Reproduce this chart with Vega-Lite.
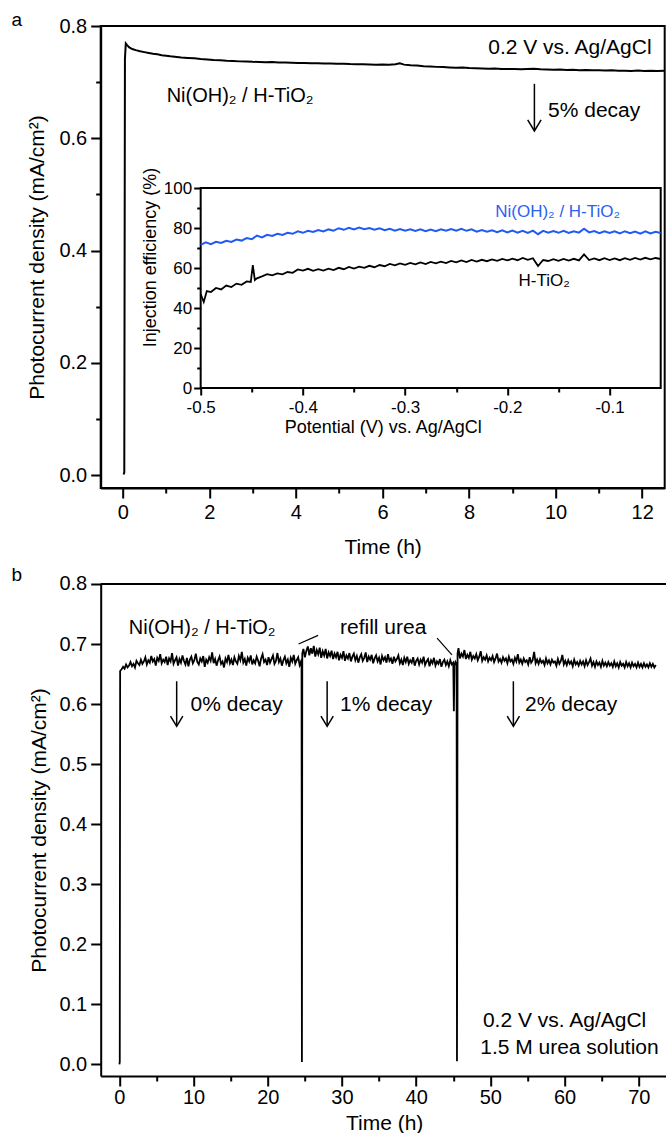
{
"$schema": "https://vega.github.io/schema/vega-lite/v6.json",
"background": "white",
"padding": {"left": 9.7, "top": 10, "right": 0, "bottom": 0},
"bounds": "flush",
"spacing": 96,
"datasets": {
"a_main": [
{"time":0.02,"current":0.001},{"time":0.035,"current":0.005},{"time":0.05,"current":0.742},{"time":0.07,"current":0.769},{"time":0.1,"current":0.766},{"time":0.15,"current":0.762},{"time":0.22,"current":0.759},{"time":0.3,"current":0.757},{"time":0.4,"current":0.755},{"time":0.5,"current":0.7535},{"time":0.6,"current":0.752},{"time":0.7,"current":0.7505},{"time":0.8,"current":0.7495},{"time":0.9,"current":0.748},{"time":1.0,"current":0.747},{"time":1.1,"current":0.746},{"time":1.2,"current":0.7452},{"time":1.35,"current":0.744},{"time":1.5,"current":0.7432},{"time":1.65,"current":0.7425},{"time":1.8,"current":0.7412},{"time":1.95,"current":0.7405},{"time":2.1,"current":0.7395},{"time":2.25,"current":0.739},{"time":2.4,"current":0.7382},{"time":2.55,"current":0.7378},{"time":2.7,"current":0.737},{"time":2.85,"current":0.7368},{"time":3.0,"current":0.7362},{"time":3.15,"current":0.736},{"time":3.3,"current":0.7355},{"time":3.45,"current":0.7358},{"time":3.6,"current":0.735},{"time":3.75,"current":0.7348},{"time":3.9,"current":0.7345},{"time":4.05,"current":0.7342},{"time":4.2,"current":0.734},{"time":4.35,"current":0.7336},{"time":4.5,"current":0.7338},{"time":4.65,"current":0.7332},{"time":4.8,"current":0.733},{"time":4.95,"current":0.7326},{"time":5.1,"current":0.7328},{"time":5.25,"current":0.7322},{"time":5.4,"current":0.732},{"time":5.55,"current":0.7318},{"time":5.7,"current":0.7315},{"time":5.85,"current":0.7312},{"time":6.0,"current":0.7314},{"time":6.15,"current":0.731},{"time":6.3,"current":0.7318},{"time":6.4,"current":0.7335},{"time":6.5,"current":0.7312},{"time":6.65,"current":0.7302},{"time":6.8,"current":0.7295},{"time":6.95,"current":0.7285},{"time":7.1,"current":0.7278},{"time":7.25,"current":0.7272},{"time":7.4,"current":0.7268},{"time":7.55,"current":0.7262},{"time":7.7,"current":0.7258},{"time":7.85,"current":0.7262},{"time":8.0,"current":0.7252},{"time":8.15,"current":0.7248},{"time":8.3,"current":0.7245},{"time":8.45,"current":0.724},{"time":8.6,"current":0.7242},{"time":8.75,"current":0.7236},{"time":8.9,"current":0.7232},{"time":9.05,"current":0.7235},{"time":9.2,"current":0.7228},{"time":9.35,"current":0.7232},{"time":9.5,"current":0.7238},{"time":9.65,"current":0.7228},{"time":9.8,"current":0.7225},{"time":9.95,"current":0.7222},{"time":10.1,"current":0.7226},{"time":10.25,"current":0.7218},{"time":10.4,"current":0.722},{"time":10.55,"current":0.7214},{"time":10.7,"current":0.7216},{"time":10.85,"current":0.721},{"time":11.0,"current":0.7212},{"time":11.15,"current":0.7206},{"time":11.3,"current":0.721},{"time":11.45,"current":0.7202},{"time":11.6,"current":0.7205},{"time":11.75,"current":0.72},{"time":11.9,"current":0.7206},{"time":12.05,"current":0.72},{"time":12.2,"current":0.7204},{"time":12.35,"current":0.7198},{"time":12.52,"current":0.7202}
],
"inset_ni": [
{"potential":-0.5,"efficiency":71.6},{"potential":-0.495,"efficiency":72.8},{"potential":-0.49,"efficiency":71.9},{"potential":-0.485,"efficiency":73.1},{"potential":-0.48,"efficiency":72.5},{"potential":-0.475,"efficiency":73.6},{"potential":-0.47,"efficiency":73.0},{"potential":-0.465,"efficiency":74.2},{"potential":-0.46,"efficiency":73.7},{"potential":-0.455,"efficiency":75.0},{"potential":-0.45,"efficiency":74.4},{"potential":-0.445,"efficiency":76.2},{"potential":-0.44,"efficiency":75.3},{"potential":-0.435,"efficiency":76.6},{"potential":-0.43,"efficiency":76.0},{"potential":-0.425,"efficiency":77.1},{"potential":-0.42,"efficiency":76.5},{"potential":-0.415,"efficiency":77.6},{"potential":-0.41,"efficiency":77.1},{"potential":-0.405,"efficiency":78.3},{"potential":-0.4,"efficiency":77.6},{"potential":-0.395,"efficiency":78.6},{"potential":-0.39,"efficiency":78.0},{"potential":-0.385,"efficiency":79.0},{"potential":-0.38,"efficiency":78.3},{"potential":-0.375,"efficiency":79.3},{"potential":-0.37,"efficiency":78.7},{"potential":-0.365,"efficiency":79.9},{"potential":-0.36,"efficiency":79.1},{"potential":-0.355,"efficiency":80.1},{"potential":-0.35,"efficiency":79.3},{"potential":-0.345,"efficiency":80.2},{"potential":-0.34,"efficiency":79.4},{"potential":-0.335,"efficiency":80.0},{"potential":-0.33,"efficiency":79.1},{"potential":-0.325,"efficiency":79.8},{"potential":-0.32,"efficiency":78.9},{"potential":-0.315,"efficiency":79.6},{"potential":-0.31,"efficiency":78.7},{"potential":-0.305,"efficiency":79.5},{"potential":-0.3,"efficiency":78.6},{"potential":-0.295,"efficiency":79.4},{"potential":-0.29,"efficiency":78.5},{"potential":-0.285,"efficiency":79.3},{"potential":-0.28,"efficiency":78.4},{"potential":-0.275,"efficiency":79.2},{"potential":-0.27,"efficiency":78.4},{"potential":-0.265,"efficiency":79.3},{"potential":-0.26,"efficiency":78.6},{"potential":-0.255,"efficiency":79.5},{"potential":-0.25,"efficiency":78.7},{"potential":-0.245,"efficiency":79.6},{"potential":-0.24,"efficiency":78.6},{"potential":-0.235,"efficiency":79.3},{"potential":-0.23,"efficiency":78.2},{"potential":-0.225,"efficiency":79.0},{"potential":-0.22,"efficiency":78.1},{"potential":-0.215,"efficiency":78.9},{"potential":-0.21,"efficiency":77.9},{"potential":-0.205,"efficiency":78.8},{"potential":-0.2,"efficiency":77.8},{"potential":-0.195,"efficiency":78.7},{"potential":-0.19,"efficiency":77.7},{"potential":-0.185,"efficiency":78.6},{"potential":-0.18,"efficiency":77.6},{"potential":-0.175,"efficiency":78.7},{"potential":-0.17,"efficiency":76.9},{"potential":-0.165,"efficiency":78.6},{"potential":-0.16,"efficiency":77.7},{"potential":-0.155,"efficiency":78.5},{"potential":-0.15,"efficiency":77.6},{"potential":-0.145,"efficiency":78.6},{"potential":-0.14,"efficiency":77.5},{"potential":-0.135,"efficiency":78.4},{"potential":-0.13,"efficiency":77.7},{"potential":-0.125,"efficiency":79.6},{"potential":-0.12,"efficiency":77.8},{"potential":-0.115,"efficiency":78.5},{"potential":-0.11,"efficiency":77.4},{"potential":-0.105,"efficiency":78.4},{"potential":-0.1,"efficiency":77.5},{"potential":-0.095,"efficiency":78.3},{"potential":-0.09,"efficiency":77.3},{"potential":-0.085,"efficiency":78.4},{"potential":-0.08,"efficiency":77.4},{"potential":-0.075,"efficiency":78.2},{"potential":-0.07,"efficiency":77.2},{"potential":-0.065,"efficiency":78.3},{"potential":-0.06,"efficiency":77.3},{"potential":-0.055,"efficiency":78.1},{"potential":-0.05,"efficiency":77.5}
],
"inset_h": [
{"potential":-0.5,"efficiency":47.0},{"potential":-0.497,"efficiency":43.0},{"potential":-0.494,"efficiency":48.5},{"potential":-0.49,"efficiency":48.0},{"potential":-0.485,"efficiency":50.0},{"potential":-0.48,"efficiency":49.3},{"potential":-0.475,"efficiency":51.2},{"potential":-0.47,"efficiency":50.5},{"potential":-0.465,"efficiency":52.2},{"potential":-0.46,"efficiency":51.6},{"potential":-0.455,"efficiency":53.3},{"potential":-0.451,"efficiency":53.0},{"potential":-0.449,"efficiency":61.5},{"potential":-0.447,"efficiency":54.0},{"potential":-0.445,"efficiency":54.8},{"potential":-0.44,"efficiency":55.8},{"potential":-0.435,"efficiency":56.9},{"potential":-0.43,"efficiency":56.3},{"potential":-0.425,"efficiency":57.3},{"potential":-0.42,"efficiency":56.8},{"potential":-0.415,"efficiency":58.0},{"potential":-0.41,"efficiency":57.6},{"potential":-0.405,"efficiency":59.3},{"potential":-0.4,"efficiency":58.7},{"potential":-0.395,"efficiency":59.6},{"potential":-0.39,"efficiency":58.6},{"potential":-0.385,"efficiency":59.4},{"potential":-0.38,"efficiency":58.7},{"potential":-0.375,"efficiency":59.7},{"potential":-0.37,"efficiency":59.0},{"potential":-0.365,"efficiency":60.1},{"potential":-0.36,"efficiency":59.4},{"potential":-0.355,"efficiency":60.5},{"potential":-0.35,"efficiency":59.7},{"potential":-0.345,"efficiency":60.7},{"potential":-0.34,"efficiency":60.1},{"potential":-0.335,"efficiency":61.1},{"potential":-0.33,"efficiency":60.4},{"potential":-0.325,"efficiency":61.5},{"potential":-0.32,"efficiency":60.9},{"potential":-0.315,"efficiency":62.0},{"potential":-0.31,"efficiency":61.3},{"potential":-0.305,"efficiency":62.3},{"potential":-0.3,"efficiency":61.6},{"potential":-0.295,"efficiency":62.5},{"potential":-0.29,"efficiency":61.8},{"potential":-0.285,"efficiency":62.8},{"potential":-0.28,"efficiency":62.0},{"potential":-0.275,"efficiency":63.0},{"potential":-0.27,"efficiency":62.3},{"potential":-0.265,"efficiency":63.2},{"potential":-0.26,"efficiency":62.5},{"potential":-0.255,"efficiency":63.5},{"potential":-0.25,"efficiency":62.8},{"potential":-0.245,"efficiency":63.8},{"potential":-0.24,"efficiency":63.0},{"potential":-0.235,"efficiency":64.0},{"potential":-0.23,"efficiency":63.2},{"potential":-0.225,"efficiency":64.1},{"potential":-0.22,"efficiency":63.4},{"potential":-0.215,"efficiency":64.3},{"potential":-0.21,"efficiency":63.6},{"potential":-0.205,"efficiency":64.5},{"potential":-0.2,"efficiency":63.8},{"potential":-0.195,"efficiency":64.7},{"potential":-0.19,"efficiency":63.9},{"potential":-0.185,"efficiency":65.0},{"potential":-0.18,"efficiency":64.1},{"potential":-0.175,"efficiency":64.9},{"potential":-0.17,"efficiency":61.0},{"potential":-0.165,"efficiency":64.0},{"potential":-0.16,"efficiency":63.5},{"potential":-0.155,"efficiency":64.4},{"potential":-0.15,"efficiency":63.6},{"potential":-0.145,"efficiency":64.5},{"potential":-0.14,"efficiency":63.7},{"potential":-0.135,"efficiency":64.6},{"potential":-0.13,"efficiency":63.8},{"potential":-0.125,"efficiency":66.8},{"potential":-0.12,"efficiency":64.0},{"potential":-0.115,"efficiency":64.8},{"potential":-0.11,"efficiency":63.9},{"potential":-0.105,"efficiency":64.9},{"potential":-0.1,"efficiency":64.0},{"potential":-0.095,"efficiency":64.8},{"potential":-0.09,"efficiency":63.9},{"potential":-0.085,"efficiency":64.9},{"potential":-0.08,"efficiency":64.1},{"potential":-0.075,"efficiency":65.0},{"potential":-0.07,"efficiency":64.2},{"potential":-0.065,"efficiency":65.1},{"potential":-0.06,"efficiency":64.3},{"potential":-0.055,"efficiency":65.0},{"potential":-0.05,"efficiency":64.5}
],
"b_main": [
{"time":0,"current":0.0},{"time":0.05,"current":0.004},{"time":0.1,"current":0.655},
{"time":0.3,"current":0.658},{"time":0.5,"current":0.662},{"time":0.7,"current":0.659},{"time":0.9,"current":0.666},{"time":1.1,"current":0.661},{"time":1.3,"current":0.664},{"time":1.5,"current":0.67},{"time":1.7,"current":0.663},{"time":1.9,"current":0.667},{"time":2.1,"current":0.661},{"time":2.3,"current":0.672},{"time":2.5,"current":0.668},{"time":2.7,"current":0.665},{"time":2.9,"current":0.674},{"time":3.1,"current":0.667},{"time":3.3,"current":0.671},{"time":3.5,"current":0.678},{"time":3.7,"current":0.666},{"time":3.9,"current":0.673},{"time":4.1,"current":0.669},{"time":4.3,"current":0.68},{"time":4.5,"current":0.671},{"time":4.7,"current":0.675},{"time":4.9,"current":0.664},{"time":5.1,"current":0.677},{"time":5.3,"current":0.672},{"time":5.5,"current":0.683},{"time":5.7,"current":0.668},{"time":5.9,"current":0.674},{"time":6.1,"current":0.67},{"time":6.3,"current":0.679},{"time":6.5,"current":0.665},{"time":6.7,"current":0.676},{"time":6.9,"current":0.671},{"time":7.1,"current":0.685},{"time":7.3,"current":0.667},{"time":7.5,"current":0.673},{"time":7.7,"current":0.678},{"time":7.9,"current":0.664},{"time":8.1,"current":0.675},{"time":8.3,"current":0.669},{"time":8.5,"current":0.681},{"time":8.7,"current":0.672},{"time":8.9,"current":0.666},{"time":9.1,"current":0.677},{"time":9.3,"current":0.663},{"time":9.5,"current":0.674},{"time":9.7,"current":0.679},{"time":9.9,"current":0.668},{"time":10.1,"current":0.673},{"time":10.3,"current":0.684},{"time":10.5,"current":0.67},{"time":10.7,"current":0.666},{"time":10.9,"current":0.676},{"time":11.1,"current":0.671},{"time":11.3,"current":0.68},{"time":11.5,"current":0.662},{"time":11.7,"current":0.674},{"time":11.9,"current":0.669},{"time":12.1,"current":0.678},{"time":12.3,"current":0.672},{"time":12.5,"current":0.686},{"time":12.7,"current":0.668},{"time":12.9,"current":0.675},{"time":13.1,"current":0.664},{"time":13.3,"current":0.673},{"time":13.5,"current":0.679},{"time":13.7,"current":0.667},{"time":13.9,"current":0.671},{"time":14.1,"current":0.661},{"time":14.3,"current":0.676},{"time":14.5,"current":0.67},{"time":14.7,"current":0.682},{"time":14.9,"current":0.668},{"time":15.1,"current":0.674},{"time":15.3,"current":0.665},{"time":15.5,"current":0.678},{"time":15.7,"current":0.671},{"time":15.9,"current":0.667},{"time":16.1,"current":0.68},{"time":16.3,"current":0.673},{"time":16.5,"current":0.687},{"time":16.7,"current":0.669},{"time":16.9,"current":0.675},{"time":17.1,"current":0.664},{"time":17.3,"current":0.677},{"time":17.5,"current":0.671},{"time":17.7,"current":0.681},{"time":17.9,"current":0.666},{"time":18.1,"current":0.673},{"time":18.3,"current":0.668},{"time":18.5,"current":0.679},{"time":18.7,"current":0.672},{"time":18.9,"current":0.663},{"time":19.1,"current":0.676},{"time":19.3,"current":0.683},{"time":19.5,"current":0.67},{"time":19.7,"current":0.674},{"time":19.9,"current":0.665},{"time":20.1,"current":0.678},{"time":20.3,"current":0.669},{"time":20.5,"current":0.675},{"time":20.7,"current":0.681},{"time":20.9,"current":0.667},{"time":21.1,"current":0.672},{"time":21.3,"current":0.685},{"time":21.5,"current":0.67},{"time":21.7,"current":0.676},{"time":21.9,"current":0.664},{"time":22.1,"current":0.673},{"time":22.3,"current":0.679},{"time":22.5,"current":0.668},{"time":22.7,"current":0.674},{"time":22.9,"current":0.662},{"time":23.1,"current":0.677},{"time":23.3,"current":0.671},{"time":23.5,"current":0.682},{"time":23.7,"current":0.667},{"time":23.9,"current":0.673},{"time":24.1,"current":0.678},{"time":24.3,"current":0.665},{"time":24.45,"current":0.67},{"time":24.55,"current":0.662},{"time":24.6,"current":0.004},{"time":24.65,"current":0.684},
{"time":24.8,"current":0.692},{"time":25.0,"current":0.678},{"time":25.2,"current":0.689},{"time":25.4,"current":0.696},{"time":25.6,"current":0.681},{"time":25.8,"current":0.693},{"time":26.0,"current":0.684},{"time":26.2,"current":0.697},{"time":26.4,"current":0.679},{"time":26.6,"current":0.69},{"time":26.8,"current":0.683},{"time":27.0,"current":0.694},{"time":27.2,"current":0.677},{"time":27.4,"current":0.688},{"time":27.6,"current":0.681},{"time":27.8,"current":0.692},{"time":28.0,"current":0.676},{"time":28.2,"current":0.686},{"time":28.4,"current":0.68},{"time":28.6,"current":0.689},{"time":28.8,"current":0.675},{"time":29.0,"current":0.684},{"time":29.2,"current":0.678},{"time":29.4,"current":0.687},{"time":29.6,"current":0.673},{"time":29.8,"current":0.682},{"time":30.0,"current":0.677},{"time":30.2,"current":0.688},{"time":30.4,"current":0.672},{"time":30.6,"current":0.681},{"time":30.8,"current":0.676},{"time":31.0,"current":0.685},{"time":31.2,"current":0.671},{"time":31.4,"current":0.679},{"time":31.6,"current":0.684},{"time":31.8,"current":0.673},{"time":32.0,"current":0.68},{"time":32.2,"current":0.669},{"time":32.4,"current":0.678},{"time":32.6,"current":0.683},{"time":32.8,"current":0.672},{"time":33.0,"current":0.677},{"time":33.2,"current":0.686},{"time":33.4,"current":0.67},{"time":33.6,"current":0.679},{"time":33.8,"current":0.674},{"time":34.0,"current":0.682},{"time":34.2,"current":0.668},{"time":34.4,"current":0.676},{"time":34.6,"current":0.681},{"time":34.8,"current":0.671},{"time":35.0,"current":0.677},{"time":35.2,"current":0.666},{"time":35.4,"current":0.68},{"time":35.6,"current":0.673},{"time":35.8,"current":0.678},{"time":36.0,"current":0.669},{"time":36.2,"current":0.683},{"time":36.4,"current":0.672},{"time":36.6,"current":0.676},{"time":36.8,"current":0.667},{"time":37.0,"current":0.679},{"time":37.2,"current":0.671},{"time":37.4,"current":0.675},{"time":37.6,"current":0.681},{"time":37.8,"current":0.668},{"time":38.0,"current":0.674},{"time":38.2,"current":0.665},{"time":38.4,"current":0.677},{"time":38.6,"current":0.67},{"time":38.8,"current":0.679},{"time":39.0,"current":0.667},{"time":39.2,"current":0.673},{"time":39.4,"current":0.669},{"time":39.6,"current":0.678},{"time":39.8,"current":0.664},{"time":40.0,"current":0.672},{"time":40.2,"current":0.676},{"time":40.4,"current":0.666},{"time":40.6,"current":0.674},{"time":40.8,"current":0.669},{"time":41.0,"current":0.679},{"time":41.2,"current":0.665},{"time":41.4,"current":0.671},{"time":41.6,"current":0.675},{"time":41.8,"current":0.663},{"time":42.0,"current":0.673},{"time":42.2,"current":0.668},{"time":42.4,"current":0.677},{"time":42.6,"current":0.664},{"time":42.8,"current":0.671},{"time":43.0,"current":0.667},{"time":43.2,"current":0.675},{"time":43.4,"current":0.662},{"time":43.6,"current":0.67},{"time":43.8,"current":0.674},{"time":44.0,"current":0.665},{"time":44.2,"current":0.671},{"time":44.4,"current":0.663},{"time":44.6,"current":0.673},{"time":44.8,"current":0.666},{"time":45.0,"current":0.669},{"time":45.08,"current":0.588},{"time":45.16,"current":0.664},{"time":45.3,"current":0.67},{"time":45.45,"current":0.666},{"time":45.5,"current":0.005},{"time":45.58,"current":0.684},
{"time":45.7,"current":0.693},{"time":45.9,"current":0.676},{"time":46.1,"current":0.684},{"time":46.3,"current":0.679},{"time":46.5,"current":0.69},{"time":46.7,"current":0.675},{"time":46.9,"current":0.682},{"time":47.1,"current":0.677},{"time":47.3,"current":0.687},{"time":47.5,"current":0.674},{"time":47.7,"current":0.68},{"time":47.9,"current":0.676},{"time":48.1,"current":0.683},{"time":48.3,"current":0.673},{"time":48.5,"current":0.679},{"time":48.7,"current":0.688},{"time":48.9,"current":0.672},{"time":49.1,"current":0.678},{"time":49.3,"current":0.674},{"time":49.5,"current":0.681},{"time":49.7,"current":0.671},{"time":49.9,"current":0.677},{"time":50.1,"current":0.673},{"time":50.3,"current":0.68},{"time":50.5,"current":0.67},{"time":50.7,"current":0.676},{"time":50.9,"current":0.684},{"time":51.1,"current":0.671},{"time":51.3,"current":0.675},{"time":51.5,"current":0.669},{"time":51.7,"current":0.678},{"time":51.9,"current":0.672},{"time":52.1,"current":0.676},{"time":52.3,"current":0.668},{"time":52.5,"current":0.679},{"time":52.7,"current":0.671},{"time":52.9,"current":0.674},{"time":53.1,"current":0.667},{"time":53.3,"current":0.677},{"time":53.5,"current":0.671},{"time":53.7,"current":0.683},{"time":53.9,"current":0.669},{"time":54.1,"current":0.674},{"time":54.3,"current":0.667},{"time":54.5,"current":0.676},{"time":54.7,"current":0.67},{"time":54.9,"current":0.673},{"time":55.1,"current":0.666},{"time":55.3,"current":0.678},{"time":55.5,"current":0.669},{"time":55.7,"current":0.673},{"time":55.9,"current":0.687},{"time":56.1,"current":0.668},{"time":56.3,"current":0.674},{"time":56.5,"current":0.667},{"time":56.7,"current":0.675},{"time":56.9,"current":0.669},{"time":57.1,"current":0.672},{"time":57.3,"current":0.665},{"time":57.5,"current":0.676},{"time":57.7,"current":0.668},{"time":57.9,"current":0.673},{"time":58.1,"current":0.666},{"time":58.3,"current":0.674},{"time":58.5,"current":0.669},{"time":58.7,"current":0.671},{"time":58.9,"current":0.664},{"time":59.1,"current":0.675},{"time":59.3,"current":0.667},{"time":59.5,"current":0.672},{"time":59.7,"current":0.682},{"time":59.9,"current":0.666},{"time":60.1,"current":0.672},{"time":60.3,"current":0.665},{"time":60.5,"current":0.673},{"time":60.7,"current":0.667},{"time":60.9,"current":0.671},{"time":61.1,"current":0.663},{"time":61.3,"current":0.674},{"time":61.5,"current":0.666},{"time":61.7,"current":0.67},{"time":61.9,"current":0.664},{"time":62.1,"current":0.672},{"time":62.3,"current":0.666},{"time":62.5,"current":0.671},{"time":62.7,"current":0.663},{"time":62.9,"current":0.673},{"time":63.1,"current":0.665},{"time":63.3,"current":0.67},{"time":63.5,"current":0.676},{"time":63.7,"current":0.664},{"time":63.9,"current":0.67},{"time":64.1,"current":0.662},{"time":64.3,"current":0.671},{"time":64.5,"current":0.665},{"time":64.7,"current":0.669},{"time":64.9,"current":0.662},{"time":65.1,"current":0.672},{"time":65.3,"current":0.664},{"time":65.5,"current":0.669},{"time":65.7,"current":0.663},{"time":65.9,"current":0.67},{"time":66.1,"current":0.664},{"time":66.3,"current":0.668},{"time":66.5,"current":0.662},{"time":66.7,"current":0.671},{"time":66.9,"current":0.663},{"time":67.1,"current":0.668},{"time":67.3,"current":0.661},{"time":67.5,"current":0.67},{"time":67.7,"current":0.664},{"time":67.9,"current":0.667},{"time":68.1,"current":0.661},{"time":68.3,"current":0.67},{"time":68.5,"current":0.663},{"time":68.7,"current":0.668},{"time":68.9,"current":0.661},{"time":69.1,"current":0.669},{"time":69.3,"current":0.663},{"time":69.5,"current":0.667},{"time":69.7,"current":0.661},{"time":69.9,"current":0.669},{"time":70.1,"current":0.662},{"time":70.3,"current":0.667},{"time":70.5,"current":0.661},{"time":70.7,"current":0.668},{"time":70.9,"current":0.662},{"time":71.1,"current":0.666},{"time":71.3,"current":0.661},{"time":71.5,"current":0.668},{"time":71.7,"current":0.662},{"time":71.9,"current":0.667},{"time":72.1,"current":0.661},{"time":72.3,"current":0.665}
]
},
"vconcat": [
{
"width": 564,
"height": 462,
"resolve": {"scale": {"x": "independent", "y": "independent"}},
"layer": [
{
"layer": [
{"data": {"name": "a_main"}, "mark": {"type": "line", "color": "black", "strokeWidth": 2},
 "encoding": {
  "x": {"field": "time", "type": "quantitative", "scale": {"domain": [-0.51, 12.52], "nice": false, "zero": false},
   "axis": {"title": "Time (h)", "values": [0,1,2,3,4,5,6,7,8,9,10,11,12], "labelExpr": "datum.value % 2 === 0 ? format(datum.value, 'd') : ''", "tickSize": {"condition": {"test": "datum.value % 2 === 0", "value": 10}, "value": 5}, "labelFontSize": 20, "titleFontSize": 21, "labelPadding": 4, "titlePadding": 14}},
  "y": {"field": "current", "type": "quantitative", "scale": {"domain": [-0.023, 0.8], "nice": false, "zero": false},
   "axis": {"title": "Photocurrent density (mA/cm²)", "values": [0,0.1,0.2,0.3,0.4,0.5,0.6,0.7,0.8], "labelExpr": "round(datum.value*10) % 2 === 0 ? format(datum.value, '.1f') : ''", "tickSize": {"condition": {"test": "round(datum.value*10) % 2 === 0", "value": 10}, "value": 5}, "labelFontSize": 20, "titleFontSize": 21, "labelPadding": 4, "titlePadding": 11}}
 }},
{"data": {"values": [{}]}, "mark": {"type": "text", "text": "a", "fontSize": 19, "align": "center", "baseline": "alphabetic"},
 "encoding": {"x": {"datum": -2.45, "type": "quantitative", "scale": {"domain": [-0.51, 12.52], "nice": false, "zero": false}}, "y": {"datum": 0.8, "type": "quantitative", "scale": {"domain": [-0.023, 0.8], "nice": false, "zero": false}}}},
{"data": {"values": [{}]}, "mark": {"type": "text", "text": "0.2 V vs. Ag/AgCl", "fontSize": 21, "align": "center", "baseline": "middle"},
 "encoding": {"x": {"datum": 10.33, "type": "quantitative", "scale": {"domain": [-0.51, 12.52], "nice": false, "zero": false}}, "y": {"datum": 0.761, "type": "quantitative", "scale": {"domain": [-0.023, 0.8], "nice": false, "zero": false}}}},
{"data": {"values": [{}]}, "mark": {"type": "text", "text": "Ni(OH)₂ / H-TiO₂", "fontSize": 20, "align": "center", "baseline": "middle"},
 "encoding": {"x": {"datum": 2.71, "type": "quantitative", "scale": {"domain": [-0.51, 12.52], "nice": false, "zero": false}}, "y": {"datum": 0.676, "type": "quantitative", "scale": {"domain": [-0.023, 0.8], "nice": false, "zero": false}}}},
{"data": {"values": [{}]}, "mark": {"type": "text", "text": "5% decay", "fontSize": 21, "align": "center", "baseline": "middle"},
 "encoding": {"x": {"datum": 10.89, "type": "quantitative", "scale": {"domain": [-0.51, 12.52], "nice": false, "zero": false}}, "y": {"datum": 0.649, "type": "quantitative", "scale": {"domain": [-0.023, 0.8], "nice": false, "zero": false}}}},
{"data": {"values": [{}]}, "mark": {"type": "rule", "color": "black", "strokeWidth": 1.5},
 "encoding": {"x": {"datum": 9.51, "type": "quantitative", "scale": {"domain": [-0.51, 12.52], "nice": false, "zero": false}}, "y": {"datum": 0.697, "type": "quantitative", "scale": {"domain": [-0.023, 0.8], "nice": false, "zero": false}}, "y2": {"datum": 0.614}}},
{"data": {"values": [{}]}, "mark": {"type": "point", "shape": "M-0.6,-1L0,0L0.6,-1", "size": 500, "filled": false, "color": "black", "strokeWidth": 1.5, "opacity": 1},
 "encoding": {"x": {"datum": 9.51, "type": "quantitative", "scale": {"domain": [-0.51, 12.52], "nice": false, "zero": false}}, "y": {"datum": 0.613, "type": "quantitative", "scale": {"domain": [-0.023, 0.8], "nice": false, "zero": false}}}}
]
},
{
"layer": [
{"data": {"values": [{}]}, "mark": {"type": "rect", "fill": "white", "stroke": "black", "strokeWidth": 2},
 "encoding": {
  "x": {"datum": -0.5, "type": "quantitative", "scale": {"domain": [-0.5978, -0.0461], "nice": false, "zero": false},
   "axis": {"title": "Potential (V) vs. Ag/AgCl", "orient": "bottom", "offset": -100, "zindex": 2, "domain": false, "values": [-0.5,-0.45,-0.4,-0.35,-0.3,-0.25,-0.2,-0.15,-0.1], "labelExpr": "round(datum.value*100) % 10 === 0 ? '-' + format(abs(datum.value), '.1f') : ''", "tickSize": {"condition": {"test": "round(datum.value*100) % 10 === 0", "value": 7}, "value": 4}, "labelFontSize": 17, "titleFontSize": 18, "labelPadding": 4, "titlePadding": 3}},
  "x2": {"datum": -0.05},
  "y": {"datum": 0, "type": "quantitative", "scale": {"domain": [-50, 181], "nice": false, "zero": false},
   "axis": {"title": "Injection efficiency (%)", "orient": "left", "offset": -100, "zindex": 2, "domain": false, "values": [0,10,20,30,40,50,60,70,80,90,100], "labelExpr": "datum.value % 20 === 0 ? format(datum.value, 'd') : ''", "tickSize": {"condition": {"test": "datum.value % 20 === 0", "value": 7}, "value": 4}, "labelFontSize": 17, "titleFontSize": 18, "labelPadding": 2, "titlePadding": 4}},
  "y2": {"datum": 100}
 }},
{"data": {"name": "inset_h"}, "mark": {"type": "line", "color": "black", "strokeWidth": 1.8},
 "encoding": {"x": {"field": "potential", "type": "quantitative", "scale": {"domain": [-0.5978, -0.0461], "nice": false, "zero": false}}, "y": {"field": "efficiency", "type": "quantitative", "scale": {"domain": [-50, 181], "nice": false, "zero": false}}}},
{"data": {"name": "inset_ni"}, "mark": {"type": "line", "color": "#1f5af2", "strokeWidth": 2},
 "encoding": {"x": {"field": "potential", "type": "quantitative", "scale": {"domain": [-0.5978, -0.0461], "nice": false, "zero": false}}, "y": {"field": "efficiency", "type": "quantitative", "scale": {"domain": [-50, 181], "nice": false, "zero": false}}}},
{"data": {"values": [{}]}, "mark": {"type": "text", "text": "Ni(OH)₂ / H-TiO₂", "fontSize": 17, "align": "center", "baseline": "middle", "color": "#2a62f0"},
 "encoding": {"x": {"datum": -0.1508, "type": "quantitative", "scale": {"domain": [-0.5978, -0.0461], "nice": false, "zero": false}}, "y": {"datum": 88, "type": "quantitative", "scale": {"domain": [-50, 181], "nice": false, "zero": false}}}},
{"data": {"values": [{}]}, "mark": {"type": "text", "text": "H-TiO₂", "fontSize": 17, "align": "center", "baseline": "middle", "color": "black"},
 "encoding": {"x": {"datum": -0.164, "type": "quantitative", "scale": {"domain": [-0.5978, -0.0461], "nice": false, "zero": false}}, "y": {"datum": 53.5, "type": "quantitative", "scale": {"domain": [-50, 181], "nice": false, "zero": false}}}}
]
}
]
},
{
"width": 567,
"height": 492,
"view": {"stroke": null},
"layer": [
{"data": {"name": "b_main"}, "mark": {"type": "line", "color": "black", "strokeWidth": 1.8},
 "encoding": {
  "x": {"field": "time", "type": "quantitative", "scale": {"domain": [-2.52, 73.9], "nice": false, "zero": false},
   "axis": {"title": "Time (h)", "values": [0,5,10,15,20,25,30,35,40,45,50,55,60,65,70], "labelExpr": "datum.value % 10 === 0 ? format(datum.value, 'd') : ''", "tickSize": {"condition": {"test": "datum.value % 10 === 0", "value": 10}, "value": 5}, "labelFontSize": 20, "titleFontSize": 21, "labelPadding": 2, "titlePadding": 5}},
  "y": {"field": "current", "type": "quantitative", "scale": {"domain": [-0.0195, 0.8], "nice": false, "zero": false},
   "axis": {"title": "Photocurrent density (mA/cm²)", "values": [0,0.05,0.1,0.15,0.2,0.25,0.3,0.35,0.4,0.45,0.5,0.55,0.6,0.65,0.7,0.75,0.8], "labelExpr": "round(datum.value*100) % 10 === 0 ? format(datum.value, '.1f') : ''", "tickSize": {"condition": {"test": "round(datum.value*100) % 10 === 0", "value": 10}, "value": 5}, "labelFontSize": 20, "titleFontSize": 21, "labelPadding": 4, "titlePadding": 9}}
 }},
{"data": {"values": [{}]}, "mark": {"type": "rule", "color": "black", "strokeWidth": 2},
 "encoding": {"y": {"datum": 0.8, "type": "quantitative", "scale": {"domain": [-0.0195, 0.8], "nice": false, "zero": false}}}},
{"data": {"values": [{}]}, "mark": {"type": "text", "text": "b", "fontSize": 19, "align": "center", "baseline": "alphabetic"},
 "encoding": {"x": {"datum": -13.84, "type": "quantitative", "scale": {"domain": [-2.52, 73.9], "nice": false, "zero": false}}, "y": {"datum": 0.8045, "type": "quantitative", "scale": {"domain": [-0.0195, 0.8], "nice": false, "zero": false}}}},
{"data": {"values": [{}]}, "mark": {"type": "text", "text": "Ni(OH)₂ / H-TiO₂", "fontSize": 20, "align": "center", "baseline": "middle"},
 "encoding": {"x": {"datum": 11.16, "type": "quantitative", "scale": {"domain": [-2.52, 73.9], "nice": false, "zero": false}}, "y": {"datum": 0.726, "type": "quantitative", "scale": {"domain": [-0.0195, 0.8], "nice": false, "zero": false}}}},
{"data": {"values": [{}]}, "mark": {"type": "text", "text": "refill urea", "fontSize": 21, "align": "center", "baseline": "middle"},
 "encoding": {"x": {"datum": 35.55, "type": "quantitative", "scale": {"domain": [-2.52, 73.9], "nice": false, "zero": false}}, "y": {"datum": 0.726, "type": "quantitative", "scale": {"domain": [-0.0195, 0.8], "nice": false, "zero": false}}}},
{"data": {"values": [{}]}, "mark": {"type": "rule", "color": "black", "strokeWidth": 1.2},
 "encoding": {"x": {"datum": 24.15, "type": "quantitative", "scale": {"domain": [-2.52, 73.9], "nice": false, "zero": false}}, "x2": {"datum": 26.78}, "y": {"datum": 0.7, "type": "quantitative", "scale": {"domain": [-0.0195, 0.8], "nice": false, "zero": false}}, "y2": {"datum": 0.7145}}},
{"data": {"values": [{}]}, "mark": {"type": "rule", "color": "black", "strokeWidth": 1.2},
 "encoding": {"x": {"datum": 42.82, "type": "quantitative", "scale": {"domain": [-2.52, 73.9], "nice": false, "zero": false}}, "x2": {"datum": 44.82}, "y": {"datum": 0.71, "type": "quantitative", "scale": {"domain": [-0.0195, 0.8], "nice": false, "zero": false}}, "y2": {"datum": 0.682}}},
{"data": {"values": [{}]}, "mark": {"type": "rule", "color": "black", "strokeWidth": 1.5},
 "encoding": {"x": {"datum": 7.72, "type": "quantitative", "scale": {"domain": [-2.52, 73.9], "nice": false, "zero": false}}, "y": {"datum": 0.638, "type": "quantitative", "scale": {"domain": [-0.0195, 0.8], "nice": false, "zero": false}}, "y2": {"datum": 0.564}}},
{"data": {"values": [{}]}, "mark": {"type": "rule", "color": "black", "strokeWidth": 1.5},
 "encoding": {"x": {"datum": 28.0, "type": "quantitative", "scale": {"domain": [-2.52, 73.9], "nice": false, "zero": false}}, "y": {"datum": 0.638, "type": "quantitative", "scale": {"domain": [-0.0195, 0.8], "nice": false, "zero": false}}, "y2": {"datum": 0.564}}},
{"data": {"values": [{}]}, "mark": {"type": "rule", "color": "black", "strokeWidth": 1.5},
 "encoding": {"x": {"datum": 53.1, "type": "quantitative", "scale": {"domain": [-2.52, 73.9], "nice": false, "zero": false}}, "y": {"datum": 0.638, "type": "quantitative", "scale": {"domain": [-0.0195, 0.8], "nice": false, "zero": false}}, "y2": {"datum": 0.564}}},
{"data": {"values": [{}]}, "mark": {"type": "point", "shape": "M-0.6,-1L0,0L0.6,-1", "size": 420, "filled": false, "color": "black", "strokeWidth": 1.5, "opacity": 1},
 "encoding": {"x": {"datum": 7.72, "type": "quantitative", "scale": {"domain": [-2.52, 73.9], "nice": false, "zero": false}}, "y": {"datum": 0.563, "type": "quantitative", "scale": {"domain": [-0.0195, 0.8], "nice": false, "zero": false}}}},
{"data": {"values": [{}]}, "mark": {"type": "point", "shape": "M-0.6,-1L0,0L0.6,-1", "size": 420, "filled": false, "color": "black", "strokeWidth": 1.5, "opacity": 1},
 "encoding": {"x": {"datum": 28.0, "type": "quantitative", "scale": {"domain": [-2.52, 73.9], "nice": false, "zero": false}}, "y": {"datum": 0.563, "type": "quantitative", "scale": {"domain": [-0.0195, 0.8], "nice": false, "zero": false}}}},
{"data": {"values": [{}]}, "mark": {"type": "point", "shape": "M-0.6,-1L0,0L0.6,-1", "size": 420, "filled": false, "color": "black", "strokeWidth": 1.5, "opacity": 1},
 "encoding": {"x": {"datum": 53.1, "type": "quantitative", "scale": {"domain": [-2.52, 73.9], "nice": false, "zero": false}}, "y": {"datum": 0.563, "type": "quantitative", "scale": {"domain": [-0.0195, 0.8], "nice": false, "zero": false}}}},
{"data": {"values": [{}]}, "mark": {"type": "text", "text": "0% decay", "fontSize": 21, "align": "center", "baseline": "middle"},
 "encoding": {"x": {"datum": 15.81, "type": "quantitative", "scale": {"domain": [-2.52, 73.9], "nice": false, "zero": false}}, "y": {"datum": 0.598, "type": "quantitative", "scale": {"domain": [-0.0195, 0.8], "nice": false, "zero": false}}}},
{"data": {"values": [{}]}, "mark": {"type": "text", "text": "1% decay", "fontSize": 21, "align": "center", "baseline": "middle"},
 "encoding": {"x": {"datum": 35.96, "type": "quantitative", "scale": {"domain": [-2.52, 73.9], "nice": false, "zero": false}}, "y": {"datum": 0.598, "type": "quantitative", "scale": {"domain": [-0.0195, 0.8], "nice": false, "zero": false}}}},
{"data": {"values": [{}]}, "mark": {"type": "text", "text": "2% decay", "fontSize": 21, "align": "center", "baseline": "middle"},
 "encoding": {"x": {"datum": 60.89, "type": "quantitative", "scale": {"domain": [-2.52, 73.9], "nice": false, "zero": false}}, "y": {"datum": 0.598, "type": "quantitative", "scale": {"domain": [-0.0195, 0.8], "nice": false, "zero": false}}}},
{"data": {"values": [{}]}, "mark": {"type": "text", "text": "0.2 V vs. Ag/AgCl", "fontSize": 21, "align": "center", "baseline": "middle"},
 "encoding": {"x": {"datum": 60.0, "type": "quantitative", "scale": {"domain": [-2.52, 73.9], "nice": false, "zero": false}}, "y": {"datum": 0.0716, "type": "quantitative", "scale": {"domain": [-0.0195, 0.8], "nice": false, "zero": false}}}},
{"data": {"values": [{}]}, "mark": {"type": "text", "text": "1.5 M urea solution", "fontSize": 21, "align": "center", "baseline": "middle"},
 "encoding": {"x": {"datum": 60.66, "type": "quantitative", "scale": {"domain": [-2.52, 73.9], "nice": false, "zero": false}}, "y": {"datum": 0.0266, "type": "quantitative", "scale": {"domain": [-0.0195, 0.8], "nice": false, "zero": false}}}}
]
}
],
"config": {
"font": "Liberation Sans",
"view": {"stroke": "black", "strokeWidth": 2},
"axis": {"grid": false, "domainColor": "black", "domainWidth": 2, "tickColor": "black", "tickWidth": 2, "labelColor": "black", "titleColor": "black", "titleFontWeight": "normal", "labelOverlap": false, "labelFlush": false, "labelFont": "Liberation Sans", "titleFont": "Liberation Sans"},
"text": {"font": "Liberation Sans", "color": "black"}
}
}
